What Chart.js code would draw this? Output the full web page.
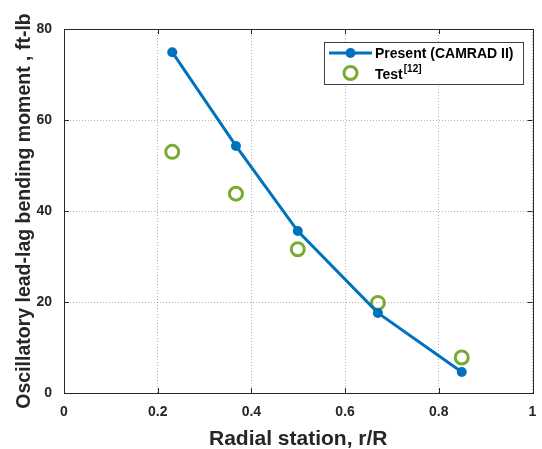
<!DOCTYPE html>
<html><head><meta charset="utf-8">
<script src="https://cdn.jsdelivr.net/npm/chart.js@4/dist/chart.umd.min.js"></script>
<style>html,body{margin:0;padding:0;background:#fff}#wrap{width:542px;height:449px}</style>
</head><body><div id="wrap"><canvas id="c" width="542" height="449"></canvas></div>
<script>
const radialStation = [0.231, 0.367, 0.499, 0.670, 0.849];
const presentCamrad = [74.9, 54.3, 35.6, 17.6, 4.6];
const testData = [53.0, 43.8, 31.6, 19.8, 7.8];
const xTickLabels = ['0', '0.2', '0.4', '0.6', '0.8', '1'];
const yTickLabels = ['0', '20', '40', '60', '80'];
const seriesNames = ['Present (CAMRAD II)', 'Test'];
const testRef = '[12]';

const BLUE = '#0072BD', GREEN = '#77AC30';
const FONT = '"Liberation Sans", Arial, sans-serif';

const boxPlugin = {
  id: 'boxPlugin',
  afterDraw(chart) {
    const ctx = chart.ctx, a = chart.chartArea;
    const xs = chart.scales.x, ys = chart.scales.y;
    ctx.save();
    ctx.strokeStyle = '#262626';
    ctx.lineWidth = 1;
    ctx.strokeRect(Math.round(a.left) + 0.5, Math.round(a.top) + 0.5, Math.round(a.right - a.left), Math.round(a.bottom - a.top));
    const L = 5;
    ctx.beginPath();
    xs.ticks.forEach(t => {
      const px = Math.round(xs.getPixelForValue(t.value)) + 0.5;
      ctx.moveTo(px, a.bottom); ctx.lineTo(px, a.bottom - L);
      ctx.moveTo(px, a.top); ctx.lineTo(px, a.top + L);
    });
    ys.ticks.forEach(t => {
      const py = Math.round(ys.getPixelForValue(t.value)) + 0.5;
      ctx.moveTo(a.left, py); ctx.lineTo(a.left + L, py);
      ctx.moveTo(a.right, py); ctx.lineTo(a.right - L, py);
    });
    ctx.stroke();
    // legend
    const bx = 324, by = 42, bw = 199, bh = 42;
    ctx.fillStyle = '#fff';
    ctx.fillRect(bx, by, bw, bh);
    ctx.strokeStyle = '#404040';
    ctx.strokeRect(bx + 0.5, by + 0.5, bw, bh);
    const y1 = 53, y2 = 73;
    ctx.strokeStyle = BLUE; ctx.lineWidth = 3;
    ctx.beginPath(); ctx.moveTo(329, y1); ctx.lineTo(372, y1); ctx.stroke();
    ctx.fillStyle = BLUE;
    ctx.beginPath(); ctx.arc(350.5, y1, 5, 0, Math.PI * 2); ctx.fill();
    ctx.strokeStyle = GREEN; ctx.lineWidth = 3;
    ctx.beginPath(); ctx.arc(350.5, y2, 6.5, 0, Math.PI * 2); ctx.stroke();
    ctx.fillStyle = '#000';
    ctx.textBaseline = 'middle';
    ctx.textAlign = 'left';
    ctx.font = 'bold 14px ' + FONT;
    ctx.fillText(seriesNames[0], 375, y1 + 1);
    ctx.fillText(seriesNames[1], 375, y2 + 2);
    const w = ctx.measureText(seriesNames[1]).width;
    ctx.font = 'bold 10px ' + FONT;
    ctx.fillText(testRef, 375 + w + 1, y2 - 4);
    ctx.restore();
  }
};

new Chart(document.getElementById('c'), {
  type: 'scatter',
  data: {
    datasets: [
      {
        label: seriesNames[0],
        data: radialStation.map((x, i) => ({ x: x, y: presentCamrad[i] })),
        showLine: true,
        borderColor: BLUE,
        backgroundColor: BLUE,
        borderWidth: 3,
        pointRadius: 5,
        pointBorderWidth: 0,
        pointBackgroundColor: BLUE
      },
      {
        label: seriesNames[1] + testRef,
        data: radialStation.map((x, i) => ({ x: x, y: testData[i] })),
        showLine: false,
        borderColor: GREEN,
        backgroundColor: 'rgba(0,0,0,0)',
        pointRadius: 6.5,
        pointBorderWidth: 3
      }
    ]
  },
  options: {
    responsive: false,
    animation: false,
    layout: { padding: { left: 0, top: 29, right: 9, bottom: 0 } },
    plugins: { legend: { display: false }, tooltip: { enabled: false } },
    scales: {
      x: {
        type: 'linear', min: 0, max: 1,
        afterFit(s) { s.height = 56; s.paddingLeft = 0; s.paddingRight = 0; },
        ticks: {
          stepSize: 0.2, padding: 11, color: '#262626',
          font: { family: FONT, size: 14, weight: 'bold' },
          callback: (v) => xTickLabels[Math.round(v * 5)]
        },
        grid: { color: 'rgba(0,0,0,0.3)', drawTicks: false, lineWidth: 1 },
        border: { display: false, dash: [1, 2] },
        title: {
          display: true, text: 'Radial station, r/R', color: '#262626',
          font: { family: FONT, size: 21, weight: 'bold' },
          padding: { top: 4, bottom: -3 }
        }
      },
      y: {
        type: 'linear', min: 0, max: 80,
        afterFit(s) { s.width = 64; },
        ticks: {
          stepSize: 20, padding: 12, color: '#262626',
          font: { family: FONT, size: 14, weight: 'bold' },
          callback: (v) => yTickLabels[Math.round(v / 20)]
        },
        grid: { color: 'rgba(0,0,0,0.3)', drawTicks: false, lineWidth: 1 },
        border: { display: false, dash: [1, 2] },
        title: {
          display: true, text: 'Oscillatory lead-lag bending moment , ft-lb', color: '#262626',
          font: { family: FONT, size: 19.5, weight: 'bold' },
          padding: { top: 13, bottom: 4 }
        }
      }
    }
  },
  plugins: [boxPlugin]
});
</script></body></html>
